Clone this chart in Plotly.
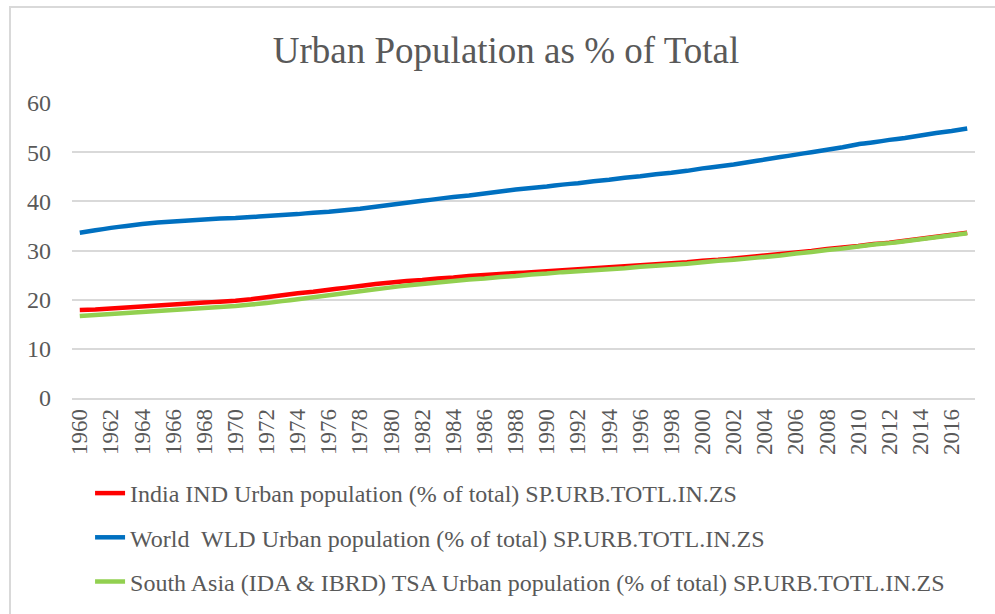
import plotly.graph_objects as go

years = list(range(1960, 2018))

india = [17.9, 18.0, 18.2, 18.4, 18.6, 18.8, 19.0, 19.2, 19.4, 19.6,
         19.8, 20.1, 20.5, 20.9, 21.3, 21.6, 22.0, 22.4, 22.8, 23.2,
         23.5, 23.8, 24.0, 24.3, 24.5, 24.8, 25.0, 25.2, 25.4, 25.6,
         25.8, 26.0, 26.2, 26.4, 26.6, 26.8, 27.0, 27.2, 27.4, 27.6,
         27.9, 28.1, 28.4, 28.7, 29.0, 29.3, 29.6, 29.9, 30.3, 30.6,
         30.9, 31.3, 31.6, 32.0, 32.4, 32.8, 33.2, 33.6]

world = [33.6, 34.1, 34.6, 35.0, 35.4, 35.7, 35.9, 36.1, 36.3, 36.5,
         36.6, 36.8, 37.0, 37.2, 37.4, 37.7, 37.9, 38.2, 38.5, 38.9,
         39.3, 39.7, 40.1, 40.5, 40.9, 41.2, 41.6, 42.0, 42.4, 42.7,
         43.0, 43.4, 43.7, 44.1, 44.4, 44.8, 45.1, 45.5, 45.8, 46.2,
         46.7, 47.1, 47.5, 48.0, 48.5, 49.0, 49.5, 50.0, 50.5, 51.0,
         51.6, 52.0, 52.5, 52.9, 53.4, 53.9, 54.3, 54.8]

south_asia = [16.7, 16.9, 17.1, 17.3, 17.5, 17.7, 17.9, 18.1, 18.3, 18.5,
              18.7, 19.0, 19.3, 19.7, 20.1, 20.5, 20.9, 21.3, 21.7, 22.1,
              22.5, 22.9, 23.2, 23.5, 23.8, 24.1, 24.3, 24.6, 24.8, 25.1,
              25.3, 25.6, 25.8, 26.0, 26.2, 26.4, 26.7, 26.9, 27.1, 27.3,
              27.6, 27.9, 28.1, 28.4, 28.7, 29.0, 29.4, 29.7, 30.1, 30.4,
              30.8, 31.2, 31.5, 31.9, 32.3, 32.7, 33.1, 33.5]

series_names = [
    "India IND Urban population (% of total) SP.URB.TOTL.IN.ZS",
    "World  WLD Urban population (% of total) SP.URB.TOTL.IN.ZS",
    "South Asia (IDA & IBRD) TSA Urban population (% of total) SP.URB.TOTL.IN.ZS",
]
series_values = [india, world, south_asia]
series_colors = ["#ff0000", "#0070c0", "#92d050"]

tick_years = list(range(1960, 2017, 2))
tick_labels = [str(y) for y in tick_years]
y_ticks = [0, 10, 20, 30, 40, 50, 60]

FONT = "Times New Roman"
GRID = "#d9d9d9"
TXT = "#595959"

fig = go.Figure()
for i, (name, vals, col) in enumerate(zip(series_names, series_values, series_colors)):
    fig.add_trace(go.Scatter(
        x=years, y=vals, mode="lines", name=name,
        line=dict(color=col, width=4.5, shape="spline", smoothing=0.3),
        legendgroup=f"g{i}",
    ))

fig.update_layout(
    width=995, height=614,
    margin=dict(l=72, r=20, t=103, b=216, autoexpand=False),
    paper_bgcolor="white", plot_bgcolor="white",
    font=dict(family=FONT, color=TXT),
    title=dict(text="Urban Population as % of Total", x=506 / 995, xanchor="center",
               xref="container",
               y=1 - 50 / 614, yanchor="middle", yref="container",
               font=dict(family=FONT, size=37, color=TXT)),
    showlegend=True,
    legend=dict(x=0.02, xanchor="left", y=1 - 471 / 614, yanchor="top",
                yref="container",
                orientation="v", traceorder="grouped", tracegroupgap=10,
                font=dict(family=FONT, size=24, color=TXT),
                bgcolor="rgba(0,0,0,0)"),
    xaxis=dict(range=[1959.5, 2017.5], tickmode="array", tickvals=tick_years,
               ticktext=tick_labels, tickangle=-90, showgrid=False,
               showline=True, linecolor=GRID, linewidth=1.5, zeroline=False,
               ticks="", tickfont=dict(family=FONT, size=23, color=TXT),
               fixedrange=True),
    yaxis=dict(range=[0, 60], tickmode="array", tickvals=y_ticks,
               showgrid=True, gridcolor=GRID, gridwidth=1.5, zeroline=False,
               showline=False, ticks="", ticklabelstandoff=20,
               tickfont=dict(family=FONT, size=24, color=TXT),
               fixedrange=True),
    shapes=[dict(type="rect", xref="paper", yref="paper",
                 x0=(10 - 72) / 903, x1=1.2, y0=(398 - 7) / 295, y1=-1.0,
                 line=dict(color=GRID, width=2), fillcolor="rgba(0,0,0,0)",
                 layer="below")],
)

fig.write_html("out.html", config={"displayModeBar": False},
               post_script="document.body.style.margin='0';")
